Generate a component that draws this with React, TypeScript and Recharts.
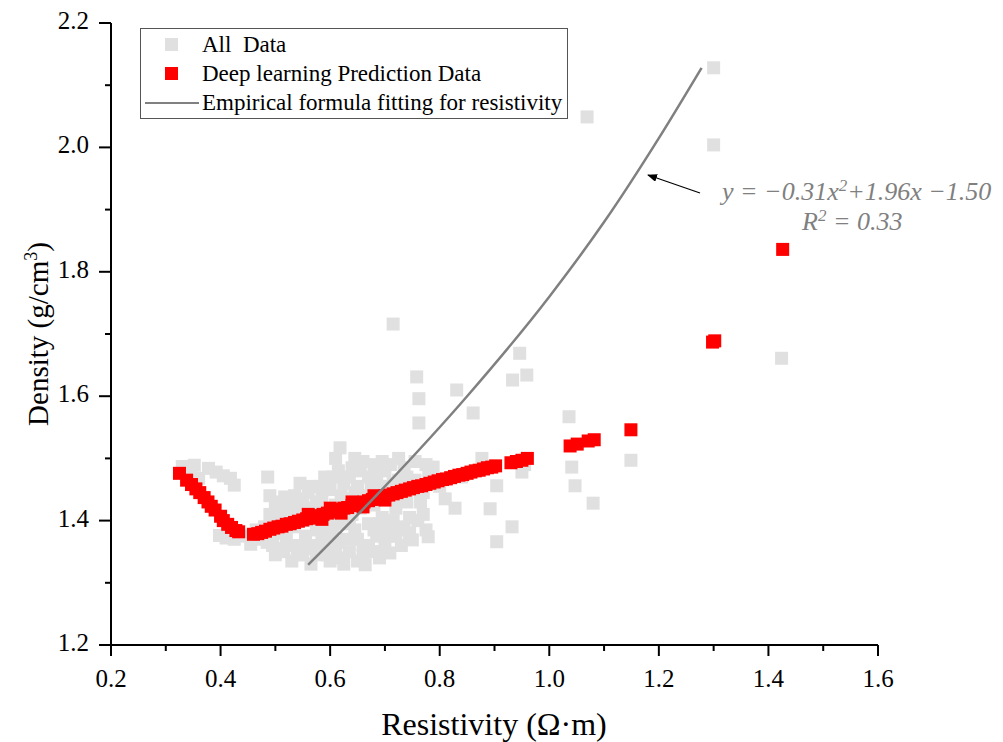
import { CartesianGrid, Legend, Scatter, ScatterChart, XAxis, YAxis } from 'recharts'

const FONT = '"Liberation Serif", "Times New Roman", serif'
const GRAY = '#e0e0e0'
const RED = '#ff0000'
const LINE = '#808080'

const xTicks = [0.2, 0.3, 0.4, 0.5, 0.6, 0.7, 0.8, 0.9, 1.0, 1.1, 1.2, 1.3, 1.4, 1.5, 1.6]
const yTicks = [1.2, 1.3, 1.4, 1.5, 1.6, 1.7, 1.8, 1.9, 2.0, 2.1, 2.2]

// all measured samples (resistivity, density)
const allData: [number, number][] = [
  [0.33, 1.487], [0.345, 1.476], [0.352, 1.489], [0.36, 1.468], [0.378, 1.484], [0.392, 1.478],
  [0.405, 1.472], [0.418, 1.468], [0.425, 1.457], [0.398, 1.376], [0.41, 1.372], [0.425, 1.37],
  [0.44, 1.375], [0.455, 1.362], [0.47, 1.37],
  [0.465, 1.385], [0.475, 1.375], [0.48, 1.39], [0.485, 1.365], [0.486, 1.47], [0.49, 1.41],
  [0.49, 1.44], [0.495, 1.36], [0.495, 1.395], [0.5, 1.345], [0.5, 1.42], [0.505, 1.38],
  [0.505, 1.43], [0.51, 1.4], [0.51, 1.35], [0.515, 1.355], [0.517, 1.438], [0.52, 1.42],
  [0.52, 1.37], [0.525, 1.36], [0.525, 1.405], [0.53, 1.335], [0.53, 1.415], [0.535, 1.39],
  [0.535, 1.44], [0.54, 1.36], [0.54, 1.345], [0.54, 1.425], [0.545, 1.41], [0.545, 1.46],
  [0.55, 1.345], [0.55, 1.435], [0.555, 1.375], [0.555, 1.355], [0.555, 1.42], [0.56, 1.4],
  [0.56, 1.445], [0.565, 1.33], [0.565, 1.455], [0.57, 1.36], [0.57, 1.42], [0.575, 1.385],
  [0.575, 1.35], [0.575, 1.43], [0.58, 1.345], [0.58, 1.455], [0.585, 1.44], [0.585, 1.37],
  [0.59, 1.365], [0.59, 1.47], [0.59, 1.385], [0.595, 1.405], [0.595, 1.345], [0.6, 1.335],
  [0.6, 1.45], [0.6, 1.39], [0.605, 1.38], [0.605, 1.47], [0.61, 1.355], [0.61, 1.425],
  [0.61, 1.5], [0.615, 1.48], [0.615, 1.365], [0.618, 1.517], [0.62, 1.395], [0.62, 1.34],
  [0.62, 1.44], [0.625, 1.46], [0.625, 1.33], [0.63, 1.37], [0.63, 1.435], [0.635, 1.35],
  [0.635, 1.395], [0.635, 1.47], [0.64, 1.41], [0.64, 1.485], [0.645, 1.385], [0.645, 1.445],
  [0.645, 1.5], [0.65, 1.455], [0.65, 1.335], [0.65, 1.37], [0.655, 1.42], [0.655, 1.48],
  [0.66, 1.36], [0.66, 1.495], [0.66, 1.345], [0.664, 1.329], [0.665, 1.44], [0.67, 1.395],
  [0.67, 1.47], [0.67, 1.36], [0.675, 1.35], [0.675, 1.455], [0.68, 1.425], [0.68, 1.49],
  [0.68, 1.385], [0.685, 1.375], [0.685, 1.47], [0.69, 1.455], [0.69, 1.34], [0.69, 1.395],
  [0.695, 1.405], [0.695, 1.35], [0.695, 1.495], [0.7, 1.48], [0.7, 1.365], [0.7, 1.455],
  [0.705, 1.435], [0.705, 1.375], [0.709, 1.348], [0.71, 1.39], [0.71, 1.49], [0.715, 1.716],
  [0.715, 1.46], [0.715, 1.4], [0.72, 1.42], [0.72, 1.375], [0.725, 1.5], [0.725, 1.385],
  [0.725, 1.465], [0.73, 1.44], [0.73, 1.36], [0.735, 1.39], [0.735, 1.485], [0.74, 1.47],
  [0.74, 1.43], [0.745, 1.405], [0.745, 1.38], [0.75, 1.369], [0.75, 1.45], [0.755, 1.495],
  [0.755, 1.465], [0.758, 1.631], [0.76, 1.4], [0.762, 1.596], [0.762, 1.557], [0.765, 1.43],
  [0.77, 1.41], [0.77, 1.445], [0.775, 1.385], [0.775, 1.49], [0.779, 1.374], [0.78, 1.47],
  [0.788, 1.486], [0.8, 1.455], [0.81, 1.435], [0.828, 1.42], [0.831, 1.61], [0.84, 1.47],
  [0.861, 1.573], [0.877, 1.5], [0.892, 1.419], [0.904, 1.456], [0.904, 1.366], [0.932, 1.39],
  [0.933, 1.626], [0.946, 1.669], [0.95, 1.478], [0.955, 1.49], [0.959, 1.634],
  [1.036, 1.567], [1.041, 1.486], [1.047, 1.456], [1.069, 2.049], [1.08, 1.428], [1.149, 1.497],
  [1.3, 2.128], [1.3, 2.004], [1.424, 1.661],
]

// deep learning predictions
const predData: [number, number][] = [
  [0.325, 1.476], [0.338, 1.465], [0.347, 1.458], [0.355, 1.451], [0.362, 1.445], [0.37, 1.437],
  [0.377, 1.43], [0.383, 1.423], [0.39, 1.417], [0.4, 1.407], [0.405, 1.4], [0.413, 1.394],
  [0.42, 1.389], [0.428, 1.384], [0.433, 1.382],
  [0.46, 1.378], [0.468, 1.379], [0.475, 1.381], [0.482, 1.383], [0.49, 1.386], [0.497, 1.388],
  [0.505, 1.39], [0.512, 1.391], [0.52, 1.394], [0.527, 1.395], [0.535, 1.397], [0.542, 1.399],
  [0.55, 1.401], [0.557, 1.403], [0.56, 1.41], [0.565, 1.404], [0.572, 1.406], [0.58, 1.408],
  [0.585, 1.402], [0.587, 1.41], [0.595, 1.412], [0.6, 1.42], [0.602, 1.414], [0.61, 1.416],
  [0.617, 1.418], [0.62, 1.412], [0.625, 1.42], [0.632, 1.421], [0.64, 1.424], [0.64, 1.43],
  [0.647, 1.426], [0.655, 1.428], [0.66, 1.422], [0.662, 1.43], [0.67, 1.432], [0.677, 1.434],
  [0.68, 1.44], [0.685, 1.436], [0.692, 1.438], [0.7, 1.433], [0.7, 1.44], [0.707, 1.441],
  [0.715, 1.443], [0.722, 1.445], [0.73, 1.447], [0.737, 1.449], [0.745, 1.451], [0.752, 1.453],
  [0.76, 1.455], [0.767, 1.456], [0.775, 1.458], [0.782, 1.46], [0.79, 1.462], [0.797, 1.464],
  [0.805, 1.466], [0.812, 1.467], [0.82, 1.469], [0.827, 1.471], [0.835, 1.473], [0.842, 1.474],
  [0.85, 1.476], [0.857, 1.478], [0.865, 1.48], [0.872, 1.481], [0.88, 1.483], [0.887, 1.485],
  [0.895, 1.486], [0.902, 1.488], [0.93, 1.493], [0.94, 1.495], [0.95, 1.497], [0.96, 1.5],
  [1.038, 1.52], [1.051, 1.523], [1.071, 1.528], [1.082, 1.53], [1.149, 1.546],
  [1.298, 1.687], [1.302, 1.689], [1.426, 1.836],
]

// empirical fit curve
const fitX = [0.56, 0.7, 0.85, 1.0, 1.1, 1.2, 1.278]
const fitY = [1.329, 1.455, 1.6, 1.76, 1.88, 2.015, 2.128]

const toPoints = (rows: [number, number][]) => rows.map(([x, y]) => ({ x, y }))
const allPoints = toPoints(allData)
const predPoints = toPoints(predData)
const fitPoints = fitX.map((x, i) => ({ x, y: fitY[i] }))

const square = (fill: string) => (p: any) => (
  <rect x={p.cx - 6.5} y={p.cy - 6.5} width={13} height={13} fill={fill} />
)

const isMajor = (v: number) => Math.round(v * 10) % 2 === 0

function XTick({ x, y, payload }: any) {
  const v = payload.value as number
  const major = isMajor(v)
  return (
    <g>
      <line x1={x} x2={x} y1={y} y2={y + (major ? 11 : 6)} stroke="#000" strokeWidth={2} />
      {major && (
        <text x={x} y={y + 42} textAnchor="middle" fontFamily={FONT} fontSize={25} fill="#000">
          {v.toFixed(1)}
        </text>
      )}
    </g>
  )
}

function YTick({ x, y, payload }: any) {
  const v = payload.value as number
  const major = isMajor(v)
  return (
    <g>
      <line x1={x} x2={x - (major ? 12 : 6)} y1={y} y2={y} stroke="#000" strokeWidth={2} />
      {major && (
        <text x={x - 22} y={y + 6} textAnchor="end" fontFamily={FONT} fontSize={25} fill="#000">
          {v.toFixed(1)}
        </text>
      )}
    </g>
  )
}

function LegendBox() {
  const row = { display: 'flex', alignItems: 'center', height: 29 } as const
  const icon = { width: 57, display: 'flex', justifyContent: 'center', alignItems: 'center' } as const
  return (
    <div
      style={{
        border: '1px solid #555',
        background: '#fff',
        padding: '1px 0 0 2px',
        height: 91,
        boxSizing: 'border-box',
        fontFamily: FONT,
        fontSize: 23,
        color: '#000',
      }}
    >
      <div style={row}>
        <div style={icon}><div style={{ width: 13, height: 13, background: GRAY }} /></div>
        <span style={{ marginLeft: 2, whiteSpace: 'pre' }}>All  Data</span>
      </div>
      <div style={row}>
        <div style={icon}><div style={{ width: 13, height: 13, background: RED }} /></div>
        <span style={{ marginLeft: 2 }}>Deep learning Prediction Data</span>
      </div>
      <div style={row}>
        <div style={icon}><div style={{ width: 54, height: 2, background: LINE }} /></div>
        <span style={{ marginLeft: 2 }}>Empirical formula fitting for resistivity</span>
      </div>
    </div>
  )
}

export default function App() {
  return (
    <div style={{ position: 'absolute', left: 0, top: 0, width: 1003, height: 742, background: '#fff' }}>
      <ScatterChart width={1003} height={742} margin={{ top: 23, right: 125, bottom: 67, left: 51 }}>
        <CartesianGrid stroke="none" fill="none" />
        <XAxis
          type="number"
          dataKey="x"
          domain={[0.2, 1.6]}
          ticks={xTicks}
          interval={0}
          allowDataOverflow
          height={30}
          tickSize={0}
          tickMargin={0}
          tickLine={false}
          axisLine={{ stroke: '#000', strokeWidth: 2 }}
          tick={<XTick />}
        />
        <YAxis
          type="number"
          dataKey="y"
          domain={[1.2, 2.2]}
          ticks={yTicks}
          interval={0}
          allowDataOverflow
          width={60}
          tickSize={0}
          tickMargin={0}
          tickLine={false}
          axisLine={{ stroke: '#000', strokeWidth: 2 }}
          tick={<YTick />}
        />
        <Legend
          layout="vertical"
          align="center"
          verticalAlign="middle"
          content={<LegendBox />}
          wrapperStyle={{ left: 140, top: 28, width: 428, height: 91 }}
        />
        <Scatter name="All  Data" data={allPoints} shape={square(GRAY)} isAnimationActive={false} />
        <Scatter name="Deep learning Prediction Data" data={predPoints} shape={square(RED)} isAnimationActive={false} />
        <Scatter
          name="Empirical formula fitting for resistivity"
          data={fitPoints}
          line={{ stroke: LINE, strokeWidth: 2.5 }}
          lineJointType="monotoneX"
          shape={() => <g />}
          isAnimationActive={false}
        />
      </ScatterChart>

      <svg width={1003} height={742} style={{ position: 'absolute', left: 0, top: 0, pointerEvents: 'none' }}>
        <defs>
          <marker id="arrow" markerWidth="10" markerHeight="8" refX="9" refY="4" orient="auto" markerUnits="userSpaceOnUse">
            <path d="M0,0 L10,4 L0,8 z" fill="#000" />
          </marker>
        </defs>
        <line x1={700} y1={193} x2={648} y2={175} stroke="#000" strokeWidth={1.2} markerEnd="url(#arrow)" />
        <text x={722} y={200} fontFamily={FONT} fontSize={26} fontStyle="italic" fill={LINE}>
          y = −0.31x<tspan dy={-9} fontSize={17}>2</tspan><tspan dy={9}>+1.96x −1.50</tspan>
        </text>
        <text x={802} y={230} fontFamily={FONT} fontSize={26} fontStyle="italic" fill={LINE}>
          R<tspan dy={-9} fontSize={17}>2</tspan><tspan dy={9}> = 0.33</tspan>
        </text>
        <text x={494} y={735} textAnchor="middle" fontFamily={FONT} fontSize={32} fill="#000">
          Resistivity (Ω·m)
        </text>
        <text transform="translate(48,334) rotate(-90)" textAnchor="middle" fontFamily={FONT} fontSize={29} fill="#000">
          Density (g/cm<tspan dy={-11} fontSize={18}>3</tspan><tspan dy={11}>)</tspan>
        </text>
      </svg>
    </div>
  )
}
